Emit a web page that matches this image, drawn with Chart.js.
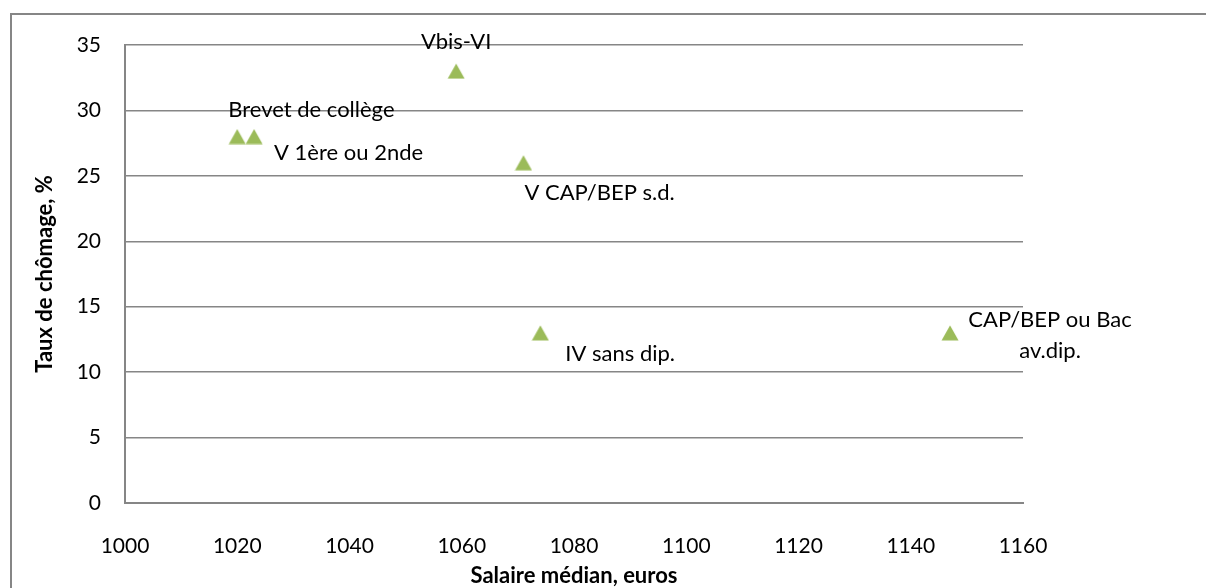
<!DOCTYPE html>
<html>
<head>
<meta charset="utf-8">
<script src="https://cdn.jsdelivr.net/npm/chart.js@4"></script>
<style>
html, body { margin: 0; padding: 0; background: #fff; }
#wrap { width: 1206px; height: 588px; position: relative; }
</style>
</head>
<body>
<div id="wrap"><canvas id="scatterChart"></canvas></div>
<script>
// data
var niveaux = ["Brevet de collège", "V 1ère ou 2nde", "Vbis-VI", "V CAP/BEP s.d.", "IV sans dip.", "CAP/BEP ou Bac\nav.dip."];
var salaires = [1020, 1023, 1059, 1071, 1074, 1147];
var chomage = [28, 28, 33, 26, 13, 13];
var xTicks = [1000, 1020, 1040, 1060, 1080, 1100, 1120, 1140, 1160];
var yTicks = [0, 5, 10, 15, 20, 25, 30, 35];

var points = salaires.map(function (s, i) { return { x: s, y: chomage[i] }; });

// where each label sits relative to its point (px) and how it is aligned
var labelPos = [
  { dx: -9, dy: -27, align: 'left' },
  { dx: 20, dy: 16, align: 'left' },
  { dx: 0, dy: -29, align: 'center' },
  { dx: 1, dy: 30, align: 'left' },
  { dx: 25, dy: 21, align: 'left' },
  { dx: 100, dy: -13, align: 'center' }
];

var gris = '#868686';
var vert = '#9BBB59';

// triangle marker, centred on its box like Excel does
var tri = document.createElement('canvas');
tri.width = 18;
tri.height = 16;
var tctx = tri.getContext('2d');
tctx.fillStyle = vert;
tctx.beginPath();
tctx.moveTo(9, 0.5);
tctx.lineTo(17.5, 15.5);
tctx.lineTo(0.5, 15.5);
tctx.closePath();
tctx.fill();

var framePlugin = {
  id: 'frame',
  beforeDraw: function (chart) {
    var ctx = chart.ctx;
    ctx.save();
    ctx.strokeStyle = gris;
    ctx.lineWidth = 2;
    ctx.strokeRect(11, 14, 1400, 800);
    ctx.restore();
  }
};

var labelPlugin = {
  id: 'pointLabels',
  afterDatasetsDraw: function (chart) {
    var ctx = chart.ctx;
    var meta = chart.getDatasetMeta(0);
    ctx.save();
    ctx.fillStyle = '#000';
    ctx.font = '22px Lato';
    ctx.textBaseline = 'middle';
    meta.data.forEach(function (el, i) {
      var p = labelPos[i];
      var lines = niveaux[i].split('\n');
      ctx.textAlign = p.align;
      lines.forEach(function (line, k) {
        ctx.fillText(line, el.x + p.dx, el.y + p.dy + k * 31);
      });
    });
    ctx.restore();
  }
};

var ctxS = document.getElementById('scatterChart').getContext('2d');
var myScatter = new Chart(ctxS, {
  type: 'scatter',
  data: {
    datasets: [{
      label: 'Taux de chômage',
      data: points,
      pointStyle: tri,
      pointRadius: 9,
      pointHoverRadius: 9,
      backgroundColor: vert,
      borderColor: vert,
      borderWidth: 0
    }]
  },
  options: {
    responsive: true,
    maintainAspectRatio: false,
    animation: false,
    layout: { padding: { left: 0, right: 183, top: 45, bottom: 0 } },
    plugins: {
      legend: { display: false },
      tooltip: { enabled: false }
    },
    scales: {
      x: {
        type: 'linear',
        min: xTicks[0],
        max: xTicks[xTicks.length - 1],
        afterBuildTicks: function (axis) { axis.ticks = xTicks.map(function (v) { return { value: v }; }); },
        afterFit: function (axis) { axis.height = 85; },
        grid: { display: false, drawTicks: false },
        border: { display: true, color: gris, width: 2 },
        ticks: {
          color: '#000', font: { family: 'Lato', size: 21 }, padding: 31, maxRotation: 0,
          callback: function (v) { return String(v); }
        },
        title: {
          display: true,
          text: 'Salaire médian, euros',
          color: '#000',
          font: { family: 'Lato', size: 22, weight: 'bold' },
          padding: { top: 0, bottom: -1 }
        }
      },
      y: {
        min: yTicks[0],
        max: yTicks[yTicks.length - 1],
        afterBuildTicks: function (axis) { axis.ticks = yTicks.map(function (v) { return { value: v }; }); },
        afterFit: function (axis) { axis.width = 125; },
        grid: { color: gris, lineWidth: 1.5, drawTicks: false },
        border: { display: true, color: gris, width: 2 },
        ticks: {
          color: '#000', font: { family: 'Lato', size: 21 }, padding: 24,
          callback: function (v) { return String(v); }
        },
        title: {
          display: true,
          text: 'Taux de chômage, %',
          color: '#000',
          font: { family: 'Lato', size: 22, weight: 'bold' },
          padding: { top: 32, bottom: 0 }
        }
      }
    }
  },
  plugins: [framePlugin, labelPlugin]
});
</script>
</body>
</html>
